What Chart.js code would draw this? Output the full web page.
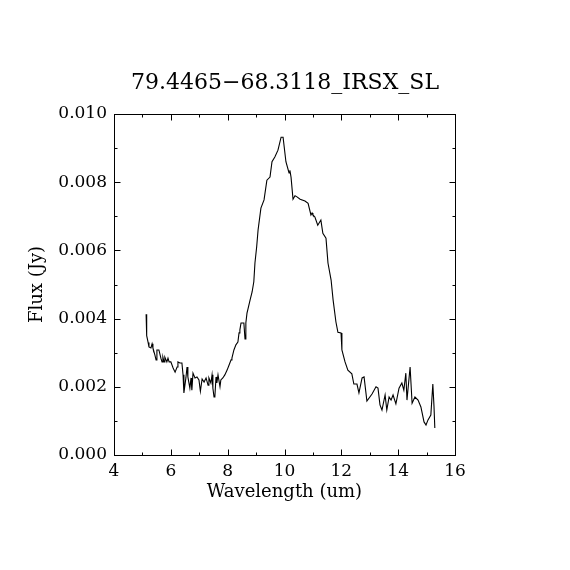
<!DOCTYPE html>
<html>
<head>
<meta charset="utf-8">
<script src="https://cdn.jsdelivr.net/npm/chart.js@4"></script>
<style>
html,body{margin:0;padding:0;background:#fff;}
#wrap{width:570px;height:570px;position:relative;}
</style>
</head>
<body>
<div id="wrap"><canvas id="c"></canvas></div>
<script>
const chartTitle = "79.4465\u221268.3118_IRSX_SL";
const xLabel = "Wavelength (um)";
const yLabel = "Flux (Jy)";

const wavelength = [
5.13,5.15,5.20,5.23,5.30,5.34,5.37,5.44,5.48,5.51,5.58,5.65,5.69,5.72,5.76,5.79,5.86,5.90,5.94,6.00,
6.08,6.15,6.22,6.25,6.32,6.39,6.43,6.46,6.53,6.57,6.60,6.67,6.71,6.74,6.78,6.85,6.92,6.99,7.04,7.10,
7.17,7.24,7.31,7.34,7.41,7.45,7.48,7.52,7.55,7.59,7.62,7.66,7.73,7.76,7.83,7.90,7.98,8.05,8.12,8.15,
8.22,8.29,8.36,8.40,8.43,8.47,8.50,8.57,8.61,8.64,8.68,8.72,8.79,8.86,8.92,8.96,9.02,9.07,9.17,9.28,
9.38,9.49,9.56,9.66,9.77,9.88,9.95,10.05,10.16,10.19,10.23,10.30,10.37,10.44,10.55,10.72,10.83,10.93,10.97,11.00,
11.07,11.17,11.28,11.35,11.46,11.53,11.64,11.71,11.81,11.88,11.99,12.02,12.13,12.23,12.37,12.44,12.55,12.62,12.73,12.80,
12.90,13.08,13.22,13.29,13.36,13.43,13.54,13.60,13.68,13.75,13.82,13.92,14.03,14.13,14.20,14.27,14.31,14.42,14.49,14.59,
14.70,14.80,14.91,14.98,15.05,15.15,15.22,15.26,15.29
];
const flux = [
0.00413,0.00350,0.00330,0.00317,0.00314,0.00326,0.00314,0.00293,0.00279,0.00308,0.00308,0.00284,0.00273,0.00287,0.00273,0.00287,0.00273,0.00284,0.00273,0.00273,
0.00255,0.00243,0.00258,0.00273,0.00270,0.00270,0.00235,0.00182,0.00226,0.00258,0.00229,0.00196,0.00226,0.00190,0.00240,0.00226,0.00229,0.00220,0.00187,0.00223,
0.00214,0.00226,0.00205,0.00226,0.00211,0.00235,0.00196,0.00170,0.00172,0.00229,0.00211,0.00235,0.00200,0.00220,0.00226,0.00235,0.00249,0.00264,0.00279,0.00284,
0.00308,0.00323,0.00331,0.00358,0.00367,0.00387,0.00387,0.00387,0.00340,0.00387,0.00416,0.00430,0.00455,0.00478,0.00508,0.00563,0.00610,0.00660,0.00724,0.00748,
0.00806,0.00815,0.00860,0.00874,0.00894,0.00932,0.00932,0.00860,0.00827,0.00835,0.00815,0.00750,0.00760,0.00757,0.00750,0.00745,0.00738,0.00704,0.00710,0.00704,
0.00698,0.00674,0.00689,0.00650,0.00636,0.00563,0.00513,0.00455,0.00390,0.00360,0.00358,0.00308,0.00273,0.00249,0.00238,0.00208,0.00208,0.00182,0.00226,0.00229,
0.00158,0.00179,0.00200,0.00196,0.00147,0.00132,0.00176,0.00132,0.00170,0.00161,0.00176,0.00150,0.00196,0.00211,0.00190,0.00240,0.00161,0.00258,0.00152,0.00170,
0.00161,0.00141,0.00097,0.00088,0.00103,0.00117,0.00208,0.00144,0.00079
];

const xMin = 4, xMax = 16, xMajorStep = 2, xMinorStep = 1;
const yMin = 0, yMax = 0.010, yMajorStep = 0.002, yMinorStep = 0.001;

const FONT = "'DejaVu Serif', 'Liberation Serif', serif";

const tickPlugin = {
  id: 'frameTicks',
  afterDraw(chart) {
    const {ctx, chartArea: a, scales: {x, y}} = chart;
    ctx.save();
    ctx.strokeStyle = '#000';
    ctx.lineWidth = 1;
    const L = Math.round(a.left) + 0.5, R = Math.round(a.right) + 0.5;
    const T = Math.round(a.top) + 0.5, B = Math.round(a.bottom) + 0.5;
    ctx.strokeRect(L, T, R - L, B - T);
    ctx.beginPath();
    const nx = Math.round((xMax - xMin) / xMinorStep);
    const xr = Math.round(xMajorStep / xMinorStep);
    for (let i = 0; i <= nx; i++) {
      const v = xMin + i * xMinorStep;
      const len = (i % xr === 0) ? 6 : 3;
      const px = Math.round(x.getPixelForValue(v)) + 0.5;
      ctx.moveTo(px, B); ctx.lineTo(px, B - len);
      ctx.moveTo(px, T); ctx.lineTo(px, T + len);
    }
    const ny = Math.round((yMax - yMin) / yMinorStep);
    const yr = Math.round(yMajorStep / yMinorStep);
    for (let i = 0; i <= ny; i++) {
      const v = yMin + i * yMinorStep;
      const len = (i % yr === 0) ? 6 : 3;
      const py = Math.round(y.getPixelForValue(v)) + 0.5;
      ctx.moveTo(L, py); ctx.lineTo(L + len, py);
      ctx.moveTo(R, py); ctx.lineTo(R - len, py);
    }
    ctx.stroke();
    ctx.restore();
  }
};

new Chart(document.getElementById('c'), {
  type: 'line',
  data: {
    datasets: [{
      data: wavelength.map((w, i) => ({x: w, y: flux[i]})),
      borderColor: '#000',
      borderWidth: 1.1,
      pointRadius: 0,
      tension: 0,
      fill: false
    }]
  },
  options: {
    responsive: true,
    maintainAspectRatio: false,
    animation: false,
    devicePixelRatio: 1,
    layout: {padding: 0},
    plugins: {
      legend: {display: false},
      tooltip: {enabled: false},
      title: {
        display: true,
        text: chartTitle,
        color: '#000',
        font: {family: FONT, size: 22, weight: 'normal', lineHeight: 1.2},
        padding: {top: 70, bottom: 114 - 70 - 26.4}
      }
    },
    scales: {
      x: {
        type: 'linear',
        min: xMin, max: xMax,
        grid: {display: false, drawTicks: false},
        border: {display: false},
        ticks: {
          stepSize: xMajorStep,
          color: '#000',
          padding: 6,
          maxRotation: 0,
          font: {family: FONT, size: 17},
          callback: v => String(v)
        },
        title: {
          display: true, text: xLabel, color: '#000',
          font: {family: FONT, size: 18, lineHeight: 1.2},
          padding: {top: 0, bottom: 67}
        },
        afterFit(s) { s.height = 115; }
      },
      y: {
        type: 'linear',
        min: yMin, max: yMax,
        grid: {display: false, drawTicks: false},
        border: {display: false},
        ticks: {
          stepSize: yMajorStep,
          color: '#000',
          padding: 7,
          font: {family: FONT, size: 17},
          callback: v => v.toFixed(3)
        },
        title: {
          display: true, text: yLabel, color: '#000',
          font: {family: FONT, size: 18, lineHeight: 1.2},
          padding: {top: 27, bottom: 0}
        },
        afterFit(s) { s.width = 114; }
      },
      yRight: {
        type: 'linear',
        position: 'right',
        min: yMin, max: yMax,
        grid: {display: false, drawTicks: false},
        border: {display: false},
        ticks: {display: false},
        afterFit(s) { s.width = 115; }
      }
    }
  },
  plugins: [tickPlugin]
});
</script>
</body>
</html>
